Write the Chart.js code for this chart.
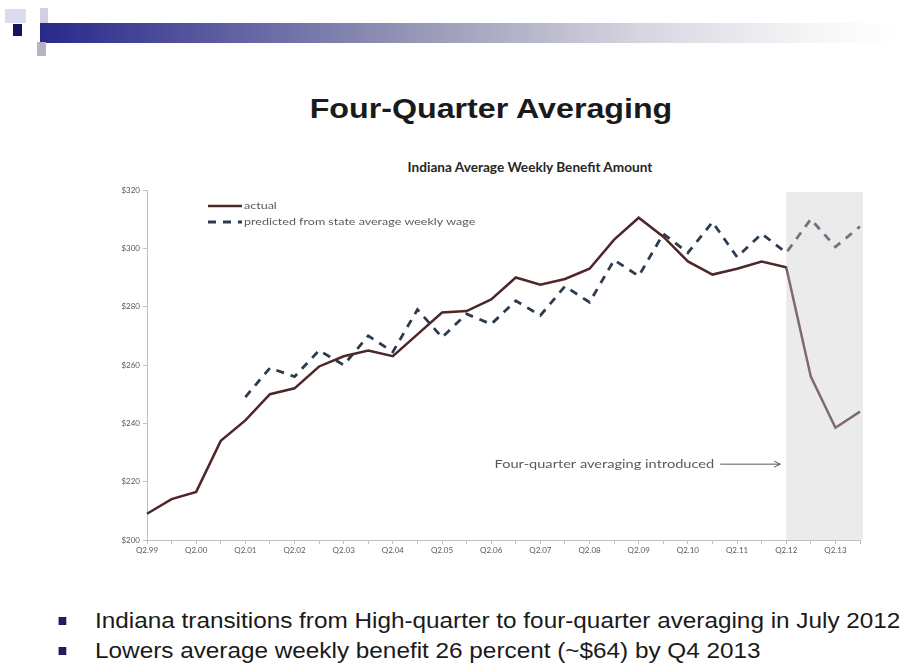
<!DOCTYPE html>
<html>
<head>
<meta charset="utf-8">
<script src="https://cdn.jsdelivr.net/npm/chart.js"></script>
<style>
    body { margin: 0; background: #fff; width: 900px; height: 667px; overflow: hidden; position: relative; font-family: "Liberation Sans", Arial, sans-serif; }
    .sq { position: absolute; }
    #bar { position: absolute; left: 40px; top: 23px; width: 860px; height: 20px;
           background: linear-gradient(to right, #28288c 0%, #5a5aa0 20%, #9a9ab8 45%, #d6d6e0 70%, #f6f6f8 90%, #fff 100%); }
    /* the slide is stretched sideways, so text is widened with scaleX */
    #title { position: absolute; left: 0; width: 982px; top: 93px; text-align: center; font-weight: bold; font-size: 28px; color: #1a1a1a; transform: scaleX(1.15); }
    #subtitle { position: absolute; left: 0; width: 1060px; top: 160px; text-align: center; font-family: Lato, sans-serif; font-weight: bold; font-size: 12.5px; color: #262626; transform: scaleX(1.09); }
    #chart-wrap { position: absolute; left: 0; top: 140px; width: 900px; height: 430px; }
    ul { position: absolute; left: 0; top: 606px; margin: 0; padding: 0; list-style: none; transform: scaleX(1.105); transform-origin: 0 0; }
    li { position: relative; padding-left: 86px; font-size: 22px; line-height: 30px; color: #1a1a1a; white-space: nowrap; }
    li::before { content: ""; position: absolute; left: 53px; top: 11px; width: 7px; height: 8px; background: #1e1e5a; }
</style>
</head>
<body>
<div class="sq" style="left:5px;top:9px;width:21px;height:14px;background:#dcdcee"></div>
<div class="sq" style="left:40px;top:8px;width:8px;height:34px;background:#d0d0e0"></div>
<div id="bar"></div>
<div class="sq" style="left:13px;top:24px;width:9px;height:12px;background:#14145e"></div>
<div class="sq" style="left:37px;top:42px;width:9px;height:14px;background:#b4b4c4"></div>

<div id="title">Four-Quarter Averaging</div>
<div id="subtitle">Indiana Average Weekly Benefit Amount</div>

<div id="chart-wrap"><canvas id="benefitChart" width="900" height="430"></canvas></div>

<ul>
    <li>Indiana transitions from High-quarter to four-quarter averaging in July 2012</li>
    <li>Lowers average weekly benefit 26 percent (~$64) by Q4 2013</li>
</ul>

<script>
// --- DATA (semi-annual, Q2 / Q4) ---
const quarters = [
    'Q2.99', 'Q4.99', 'Q2.00', 'Q4.00', 'Q2.01', 'Q4.01', 'Q2.02', 'Q4.02', 'Q2.03', 'Q4.03',
    'Q2.04', 'Q4.04', 'Q2.05', 'Q4.05', 'Q2.06', 'Q4.06', 'Q2.07', 'Q4.07', 'Q2.08', 'Q4.08',
    'Q2.09', 'Q4.09', 'Q2.10', 'Q4.10', 'Q2.11', 'Q4.11', 'Q2.12', 'Q4.12', 'Q2.13', 'Q4.13'
];
const actual = [
    209, 214, 216.5, 234, 241, 250, 252, 259.5, 263, 265,
    263, 270.5, 278, 278.5, 282.5, 290, 287.5, 289.5, 293, 303,
    310.5, 304, 295.5, 291, 293, 295.5, 293.5, 256, 238.5, 244
];
const predicted = [
    null, null, null, null, 249, 259, 256, 265, 260, 270,
    264.5, 279, 269.5, 277.5, 274, 282, 277, 287, 281.5, 296,
    290.5, 305, 298.5, 309, 297, 305, 298.5, 310, 300.5, 307.5
];
const yTicks = [200, 220, 240, 260, 280, 300, 320];
const shadeFrom = 'Q2.12';
const noteText = 'Four-quarter averaging introduced';
const noteValue = 226;

const TEXT_GREY = '#595959';
const AXIS_GREY = '#bfbfbf';

// text widened sideways like the rest of the slide
function wideText(ctx, text, x, y, sx, align) {
    ctx.save();
    ctx.translate(x, y);
    ctx.scale(sx, 1);
    ctx.textAlign = align;
    ctx.fillText(text, 0, 0);
    ctx.restore();
}

// grey box over the four-quarter period, legend in the corner, arrow note
const overlayPlugin = {
    id: 'overlay',
    afterDatasetsDraw(chart) {
        const { ctx, chartArea, scales } = chart;
        const x0 = scales.x.getPixelForValue(quarters.indexOf(shadeFrom));
        ctx.save();
        ctx.fillStyle = 'rgba(204,204,204,0.4)';
        ctx.fillRect(x0, chartArea.top + 2, chartArea.right + 3 - x0, chartArea.bottom - chartArea.top - 2);

        // legend
        ctx.font = '10px Lato';
        ctx.textBaseline = 'middle';
        chart.data.datasets.forEach((ds, i) => {
            const lx = chartArea.left + 61;
            const ly = chartArea.top + 16 + i * 16;
            ctx.strokeStyle = ds.borderColor;
            ctx.lineWidth = ds.borderWidth;
            ctx.setLineDash(ds.borderDash || []);
            ctx.beginPath();
            ctx.moveTo(lx, ly);
            ctx.lineTo(lx + 34, ly);
            ctx.stroke();
            ctx.setLineDash([]);
            ctx.fillStyle = TEXT_GREY;
            wideText(ctx, ds.label, lx + 36, ly, 1.25, 'left');
        });

        // annotation with arrow
        const ay = scales.y.getPixelForValue(noteValue);
        const aEnd = x0 - 6;
        const aStart = aEnd - 60;
        ctx.strokeStyle = TEXT_GREY;
        ctx.lineWidth = 1;
        ctx.beginPath();
        ctx.moveTo(aStart, ay);
        ctx.lineTo(aEnd, ay);
        ctx.stroke();
        ctx.beginPath();
        ctx.moveTo(aEnd - 6, ay - 3);
        ctx.lineTo(aEnd, ay);
        ctx.lineTo(aEnd - 6, ay + 3);
        ctx.stroke();
        ctx.font = '11.5px Lato';
        ctx.fillStyle = TEXT_GREY;
        wideText(ctx, noteText, aStart - 6, ay, 1.27, 'right');
        ctx.restore();
    }
};

function renderChart() {
    const ctx = document.getElementById('benefitChart').getContext('2d');
    new Chart(ctx, {
        type: 'line',
        data: {
            labels: quarters,
            datasets: [
                {
                    label: 'actual',
                    data: actual,
                    borderColor: '#4e2828',
                    borderWidth: 2.5,
                    pointRadius: 0,
                    tension: 0
                },
                {
                    label: 'predicted from state average weekly wage',
                    data: predicted,
                    borderColor: '#2c3a4e',
                    borderWidth: 2.8,
                    borderDash: [8, 7],
                    pointRadius: 0,
                    tension: 0
                }
            ]
        },
        options: {
            responsive: false,
            animation: false,
            layout: { padding: { left: 100, right: 40, top: 50, bottom: 10 } },
            plugins: { legend: { display: false }, tooltip: { enabled: false } },
            scales: {
                x: {
                    offset: false,
                    afterFit: s => { s.height = 20; },
                    grid: { drawOnChartArea: false, tickLength: 4, color: AXIS_GREY },
                    border: { color: AXIS_GREY },
                    ticks: {
                        autoSkip: false,
                        maxRotation: 0,
                        padding: 2,
                        color: TEXT_GREY,
                        font: { family: 'Lato', size: 8 },
                        callback: function (v) {
                            const q = this.getLabelForValue(v);
                            return q.startsWith('Q2') ? q : '';
                        }
                    }
                },
                y: {
                    min: yTicks[0],
                    max: yTicks[yTicks.length - 1],
                    afterFit: s => { s.width = 47; },
                    afterBuildTicks: s => { s.ticks = yTicks.map(v => ({ value: v })); },
                    grid: { drawOnChartArea: false, tickLength: 4, color: AXIS_GREY },
                    border: { color: AXIS_GREY },
                    ticks: {
                        padding: 3,
                        color: TEXT_GREY,
                        font: { family: 'Lato', size: 8 },
                        callback: v => '$' + v
                    }
                }
            }
        },
        plugins: [overlayPlugin]
    });
}

document.addEventListener('DOMContentLoaded', renderChart);
</script>
</body>
</html>
